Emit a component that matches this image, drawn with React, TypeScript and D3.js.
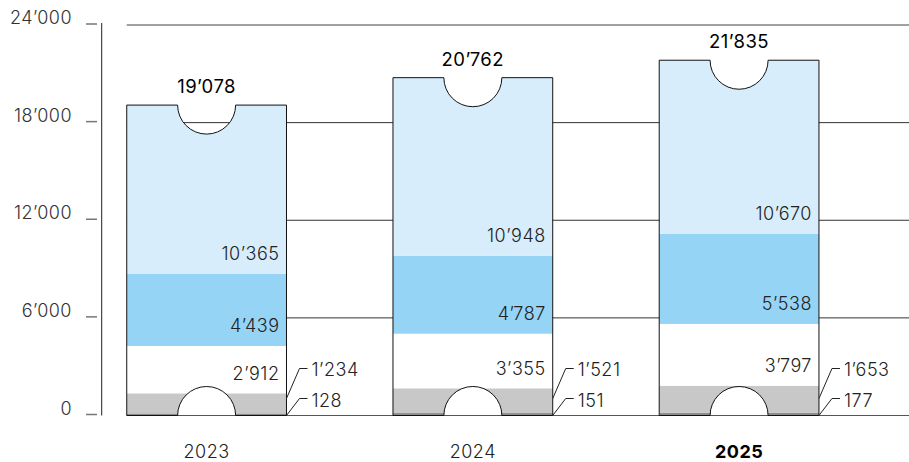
import React from "react";
import * as d3 from "d3";

const years = ["2023", "2024", "2025"];
const seriesKeys = ["s1", "s2", "s3", "s4", "s5"];
const s1 = [128, 151, 177];
const s2 = [1234, 1521, 1653];
const s3 = [2912, 3355, 3797];
const s4 = [4439, 4787, 5538];
const s5 = [10365, 10948, 10670];
const totals = [19078, 20762, 21835];
const yTicks = [0, 6000, 12000, 18000, 24000];
const boldYear = "2025";

const colors = ["#8c8c8c", "#c8c8c8", "#ffffff", "#96d4f6", "#d7edfb"];

const W = 909;
const H = 462;

const loc = d3.formatLocale({ decimal: ".", thousands: "\u2019", grouping: [3], currency: ["", ""] });
const fmt = loc.format(",d");

const FONT = "Inter, 'Liberation Sans', Arial, sans-serif";
const LIGHT = 300;

export default function App() {
  const y = d3.scaleLinear().domain([0, 24000]).range([415.5, 25]);
  const x = d3
    .scaleBand<string>()
    .domain(years)
    .range([73.5, 872.2])
    .paddingInner(0.4)
    .paddingOuter(0.2);
  const bw = x.bandwidth();
  const r = 29;

  const rows = years.map((yr, i) => ({
    year: yr,
    s1: s1[i],
    s2: s2[i],
    s3: s3[i],
    s4: s4[i],
    s5: s5[i],
  }));
  const stack = d3.stack<any>().keys(seriesKeys)(rows);

  const barPath = (i: number) => {
    const x0 = x(years[i])!;
    const x1 = x0 + bw;
    const cx = x0 + bw / 2;
    const yT = y(totals[i]);
    const y0 = y(0);
    const p = d3.path();
    p.moveTo(x0, y0);
    p.lineTo(x0, yT);
    p.lineTo(cx - r, yT);
    p.arc(cx, yT, r, Math.PI, 0, true);
    p.lineTo(x1, yT);
    p.lineTo(x1, y0);
    p.lineTo(cx + r, y0);
    p.arc(cx, y0, r, 0, Math.PI, true);
    p.lineTo(x0, y0);
    p.closePath();
    return p.toString();
  };

  const xEnd = W;
  const x0first = x(years[0])!;

  return (
    <svg
      width={W}
      height={H}
      style={{ position: "absolute", left: 0, top: 0, background: "#fff" }}
      fontFamily={FONT}
    >
      <defs>
        {years.map((yr, i) => (
          <clipPath id={`clip${i}`} key={yr}>
            <path d={barPath(i)} />
          </clipPath>
        ))}
      </defs>

      {/* gridlines */}
      {yTicks.map((t) => (
        <line
          key={t}
          x1={x0first}
          x2={xEnd}
          y1={y(t)}
          y2={y(t)}
          stroke={t === 24000 ? "#808080" : t === 0 ? "#555" : "#333"}
          strokeWidth={t === 24000 ? 1.5 : 1}
        />
      ))}

      {/* axis */}
      <line x1={101.7} x2={101.7} y1={y(24000) - 2} y2={y(0)} stroke="#222" strokeWidth={1} />
      {yTicks.map((t) => (
        <g key={t}>
          <line x1={86} x2={97} y1={y(t) - 1} y2={y(t) - 1} stroke="#777" strokeWidth={1.5} />
          <text
            x={72}
            y={y(t) - 1}
            textAnchor="end"
            fontSize={18}
            fontWeight={LIGHT}
            fill="#333"
            letterSpacing={0.5}
          >
            {fmt(t)}
          </text>
        </g>
      ))}

      {/* bars */}
      {years.map((yr, i) => {
        const x0 = x(yr)!;
        return (
          <g key={yr}>
            <g clipPath={`url(#clip${i})`}>
              {stack.map((layer, k) => (
                <rect
                  key={k}
                  x={x0}
                  width={bw}
                  y={y(layer[i][1])}
                  height={y(layer[i][0]) - y(layer[i][1])}
                  fill={colors[k]}
                />
              ))}
            </g>
            <path d={barPath(i)} fill="none" stroke="#111" strokeWidth={1} />
          </g>
        );
      })}

      {/* segment labels inside */}
      {years.map((yr, i) => {
        const x1 = x(yr)! + bw;
        return [2, 3, 4].map((k) => (
          <text
            key={`${yr}-${k}`}
            x={x1 - 7}
            y={y(stack[k][i][0]) - 13.5}
            textAnchor="end"
            fontSize={18}
            fontWeight={LIGHT}
            fill="#222"
            letterSpacing={0.5}
          >
            {fmt(stack[k][i][1] - stack[k][i][0])}
          </text>
        ));
      })}

      {/* leader labels */}
      {years.map((yr, i) => {
        const x1 = x(yr)! + bw;
        const yA = y(0) - 17;
        const yB = y(0) - 47;
        return (
          <g key={`lead-${yr}`}>
            <polyline
              points={`${x1},${y(0)} ${x1 + 13},${yA} ${x1 + 21},${yA}`}
              fill="none"
              stroke="#222"
              strokeWidth={1}
            />
            <polyline
              points={`${x1},${yA} ${x1 + 13},${yB} ${x1 + 21},${yB}`}
              fill="none"
              stroke="#222"
              strokeWidth={1}
            />
            <text x={x1 + 25} y={yA + 8.5} fontSize={18} fontWeight={LIGHT} fill="#222" letterSpacing={0.5}>
              {fmt(s1[i])}
            </text>
            <text x={x1 + 25} y={yB + 7} fontSize={18} fontWeight={LIGHT} fill="#222" letterSpacing={0.5}>
              {fmt(s2[i])}
            </text>
          </g>
        );
      })}

      {/* totals */}
      {years.map((yr, i) => (
        <text
          key={`tot-${yr}`}
          x={x(yr)! + bw / 2}
          y={y(totals[i]) - 12}
          textAnchor="middle"
          fontSize={18.5}
          fontWeight={400}
          fill="#000"
          letterSpacing={0.5}
        >
          {fmt(totals[i])}
        </text>
      ))}

      {/* category labels */}
      {years.map((yr) => (
        <text
          key={`cat-${yr}`}
          x={x(yr)! + bw / 2}
          y={458}
          textAnchor="middle"
          fontSize={18}
          fontWeight={yr === boldYear ? 700 : LIGHT}
          fill={yr === boldYear ? "#000" : "#222"}
          letterSpacing={0.5}
        >
          {yr}
        </text>
      ))}
    </svg>
  );
}
